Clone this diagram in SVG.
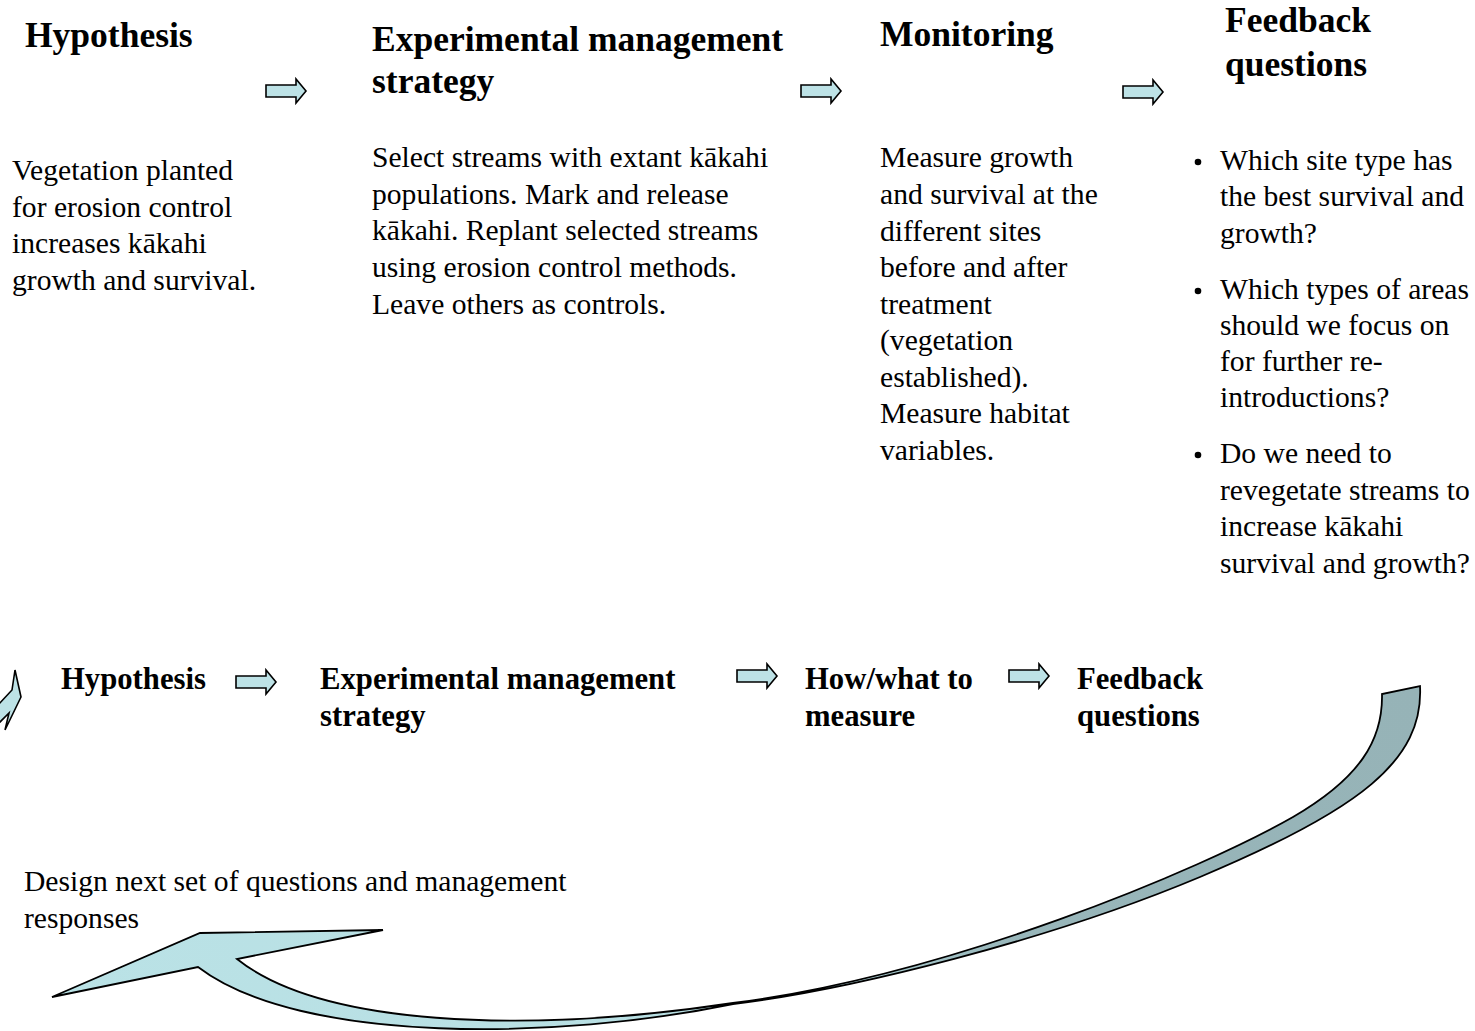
<svg xmlns="http://www.w3.org/2000/svg" width="1475" height="1031" viewBox="0 0 1475 1031">
<style>
  text { font-family: "Liberation Serif", "Times New Roman", serif; fill: #000; }
  .h1 { font-size: 35.5px; font-weight: bold; }
  .h2 { font-size: 30.7px; font-weight: bold; }
  .b { font-size: 29.6px; }
  .arr { fill: #bde2e6; stroke: #000; stroke-width: 1.6; stroke-linejoin: miter; }
  .big { stroke: #000; stroke-width: 1.8; stroke-linejoin: miter; }
</style>
<defs>
  <path id="blk" d="M0,-6 L30,-6 L30,-12 L40,0 L30,12 L30,6 L0,6 Z"/>
  <linearGradient id="g" gradientUnits="userSpaceOnUse" x1="1420" y1="690" x2="52" y2="997">
    <stop offset="0" stop-color="#96b3b7"/>
    <stop offset="0.32" stop-color="#98b6ba"/>
    <stop offset="0.55" stop-color="#b8dfe3"/>
    <stop offset="1" stop-color="#bae2e6"/>
  </linearGradient>
</defs>
<rect width="1475" height="1031" fill="#fff"/>

<g id="node-hypothesis">
  <text class="h1" x="25" y="47">Hypothesis</text>
  <text class="b" x="12" y="180">Vegetation planted</text>
  <text class="b" x="12" y="217">for erosion control</text>
  <text class="b" x="12" y="253">increases kākahi</text>
  <text class="b" x="12" y="290">growth and survival.</text>
</g>

<g id="node-strategy">
  <text class="h1" x="372" y="51">Experimental management</text>
  <text class="h1" x="372" y="93">strategy</text>
  <text class="b" x="372" y="167">Select streams with extant kākahi</text>
  <text class="b" x="372" y="204">populations. Mark and release</text>
  <text class="b" x="372" y="240">kākahi. Replant selected streams</text>
  <text class="b" x="372" y="277">using erosion control methods.</text>
  <text class="b" x="372" y="314">Leave others as controls.</text>
</g>

<g id="node-monitoring">
  <text class="h1" x="880" y="46">Monitoring</text>
  <text class="b" x="880" y="167">Measure growth</text>
  <text class="b" x="880" y="204">and survival at the</text>
  <text class="b" x="880" y="241">different sites</text>
  <text class="b" x="880" y="277">before and after</text>
  <text class="b" x="880" y="314">treatment</text>
  <text class="b" x="880" y="350">(vegetation</text>
  <text class="b" x="880" y="387">established).</text>
  <text class="b" x="880" y="423">Measure habitat</text>
  <text class="b" x="880" y="460">variables.</text>
</g>

<g id="node-feedback">
  <text class="h1" x="1225" y="32">Feedback</text>
  <text class="h1" x="1225" y="76">questions</text>
  <circle cx="1198" cy="162" r="3.3" fill="#000"/>
  <text class="b" x="1220" y="170">Which site type has</text>
  <text class="b" x="1220" y="206">the best survival and</text>
  <text class="b" x="1220" y="243">growth?</text>
  <circle cx="1198" cy="291" r="3.3" fill="#000"/>
  <text class="b" x="1220" y="299">Which types of areas</text>
  <text class="b" x="1220" y="335">should we focus on</text>
  <text class="b" x="1220" y="371">for further re-</text>
  <text class="b" x="1220" y="407">introductions?</text>
  <circle cx="1198" cy="455" r="3.3" fill="#000"/>
  <text class="b" x="1220" y="463">Do we need to</text>
  <text class="b" x="1220" y="500">revegetate streams to</text>
  <text class="b" x="1220" y="536">increase kākahi</text>
  <text class="b" x="1220" y="573">survival and growth?</text>
</g>

<g id="node-bottom-hypothesis">
  <text class="h2" x="61" y="689">Hypothesis</text>
</g>
<g id="node-bottom-strategy">
  <text class="h2" x="320" y="689">Experimental management</text>
  <text class="h2" x="320" y="726">strategy</text>
</g>
<g id="node-bottom-measure">
  <text class="h2" x="805" y="689">How/what to</text>
  <text class="h2" x="805" y="726">measure</text>
</g>
<g id="node-bottom-feedback">
  <text class="h2" x="1077" y="689">Feedback</text>
  <text class="h2" x="1077" y="726">questions</text>
</g>
<g id="node-design">
  <text class="b" x="24" y="891">Design next set of questions and management</text>
  <text class="b" x="24" y="928">responses</text>
</g>

<g id="connectors">
  <use href="#blk" class="arr" transform="translate(266,91)"/>
  <use href="#blk" class="arr" transform="translate(801,91)"/>
  <use href="#blk" class="arr" transform="translate(1123,92)"/>
  <use href="#blk" class="arr" transform="translate(236,682)"/>
  <use href="#blk" class="arr" transform="translate(737,676)"/>
  <use href="#blk" class="arr" transform="translate(1009,676)"/>
  <path class="arr" d="M15,670 L21,697 L5,730 L9,713 L-2,724 L-2,705 L12,690 Z"/>
  <path class="big" fill="url(#g)" d="M52,997 L200,933 L383,930 L237,959 C320,1025 520,1035 733,1003 C950,975 1200,870 1293,817 C1360,778 1383,740 1382,694 L1420,686 C1424,760 1360,810 1200,877 C1050,940 850,990 733,1004 C560,1040 300,1045 198,967 Z"/>
</g>
</svg>
